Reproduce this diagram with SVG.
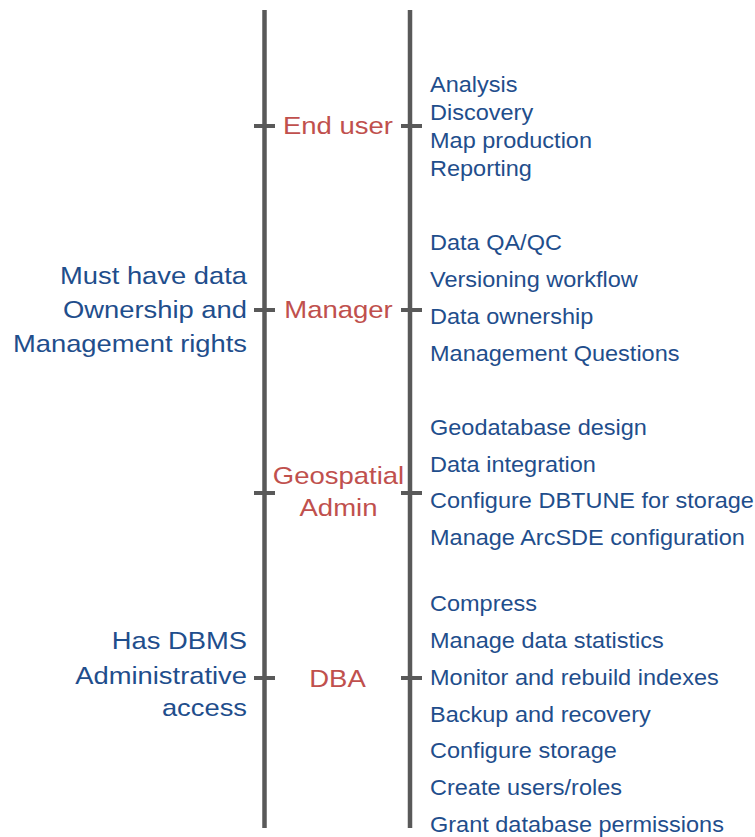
<svg xmlns="http://www.w3.org/2000/svg" width="755" height="837" viewBox="0 0 755 837">
<style>
.ln{stroke:#595959;stroke-width:4.5;fill:none}
.tk{stroke:#595959;stroke-width:4;fill:none}
.item{font-family:"Liberation Sans",Arial,sans-serif;font-size:22.5px;fill:#1F4E8C}
.note{font-family:"Liberation Sans",Arial,sans-serif;font-size:24px;fill:#1F4E8C;text-anchor:end}
.role{font-family:"Liberation Sans",Arial,sans-serif;font-size:24px;fill:#C0504D;text-anchor:middle}
</style>
<rect width="755" height="837" fill="#fff"/>
<g id="connectors">
<line class="ln" x1="264.5" y1="10" x2="264.5" y2="828"/>
<line class="ln" x1="410" y1="10" x2="410" y2="828"/>
<line class="tk" x1="254" y1="126" x2="275" y2="126"/>
<line class="tk" x1="401" y1="126" x2="422" y2="126"/>
<line class="tk" x1="254" y1="310" x2="275" y2="310"/>
<line class="tk" x1="401" y1="310" x2="422" y2="310"/>
<line class="tk" x1="254" y1="493" x2="275" y2="493"/>
<line class="tk" x1="401" y1="493" x2="422" y2="493"/>
<line class="tk" x1="254" y1="678" x2="275" y2="678"/>
<line class="tk" x1="401" y1="678" x2="422" y2="678"/>
</g>
<g id="enduser">
<text class="role" transform="translate(338 134) scale(1.146 1)">End user</text>
<text class="item" transform="translate(430 92) scale(1.045 1)">Analysis</text>
<text class="item" transform="translate(430 120) scale(1.045 1)">Discovery</text>
<text class="item" transform="translate(430 148) scale(1.045 1)">Map production</text>
<text class="item" transform="translate(430 176) scale(1.045 1)">Reporting</text>
</g>
<g id="manager">
<text class="role" transform="translate(338.5 318) scale(1.146 1)">Manager</text>
<text class="item" transform="translate(430 250) scale(1.045 1)">Data QA/QC</text>
<text class="item" transform="translate(430 287) scale(1.045 1)">Versioning workflow</text>
<text class="item" transform="translate(430 324) scale(1.045 1)">Data ownership</text>
<text class="item" transform="translate(430 361) scale(1.045 1)">Management Questions</text>
<text class="note" transform="translate(247 284) scale(1.14 1)">Must have data</text>
<text class="note" transform="translate(247 318) scale(1.14 1)">Ownership and</text>
<text class="note" transform="translate(247 352) scale(1.14 1)">Management rights</text>
</g>
<g id="geoadmin">
<text class="role" transform="translate(338.5 484) scale(1.146 1)">Geospatial</text>
<text class="role" transform="translate(338.5 516) scale(1.146 1)">Admin</text>
<text class="item" transform="translate(430 435) scale(1.045 1)">Geodatabase design</text>
<text class="item" transform="translate(430 472) scale(1.045 1)">Data integration</text>
<text class="item" transform="translate(430 508) scale(1.045 1)">Configure DBTUNE for storage</text>
<text class="item" transform="translate(430 545) scale(1.045 1)">Manage ArcSDE configuration</text>
</g>
<g id="dba">
<text class="role" transform="translate(337.5 687) scale(1.146 1)">DBA</text>
<text class="item" transform="translate(430 611) scale(1.045 1)">Compress</text>
<text class="item" transform="translate(430 648) scale(1.045 1)">Manage data statistics</text>
<text class="item" transform="translate(430 685) scale(1.045 1)">Monitor and rebuild indexes</text>
<text class="item" transform="translate(430 722) scale(1.045 1)">Backup and recovery</text>
<text class="item" transform="translate(430 758) scale(1.045 1)">Configure storage</text>
<text class="item" transform="translate(430 795) scale(1.045 1)">Create users/roles</text>
<text class="item" transform="translate(430 832) scale(1.045 1)">Grant database permissions</text>
<text class="note" transform="translate(247 649) scale(1.14 1)">Has DBMS</text>
<text class="note" transform="translate(247 684) scale(1.14 1)">Administrative</text>
<text class="note" transform="translate(247 716) scale(1.14 1)">access</text>
</g>
</svg>
